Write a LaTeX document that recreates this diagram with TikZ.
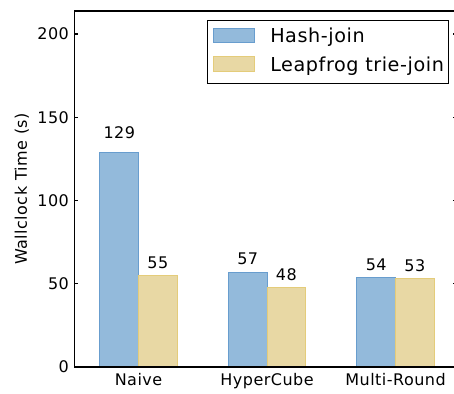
\documentclass[tikz,border=0pt]{standalone}
\usepackage{fontspec}
\setmainfont{DejaVu Sans}[LetterSpace=3]
\usepackage{tikz}
\usetikzlibrary{positioning}

\definecolor{hashfill}{RGB}{147,186,219}
\definecolor{hashedge}{RGB}{104,157,206}
\definecolor{lftjfill}{RGB}{232,216,164}
\definecolor{lftjedge}{RGB}{228,204,122}

\begin{document}
\begin{tikzpicture} [
  x=96.375pt, y=1.24875pt,
  hash bar/.style= {draw=hashedge,fill=hashfill,line width=0.75pt},
  lftj bar/.style= {draw=lftjedge,fill=lftjfill,line width=0.75pt},
  tick label/.style= {font=\fontsize{12}{14}\selectfont,inner sep=0},
  value label/.style= {tick label,anchor=base},
  legend text/.style= {font=\fontsize{14.4}{17}\selectfont,inner sep=0,anchor=base west},
  axis line/.style={line width=1pt}
]
\clip (-0.778,-16.2) rectangle (2.755,220.4);
% bars and their values
\foreach \i/\h/\l in {0/129/55, 1/57/48, 2/54/53} {
  \draw [hash bar] (\i,0) rectangle (\i+0.3,\h);
  \draw [lftj bar] (\i+0.3,0) rectangle (\i+0.6,\l);
  \node (hv\i) [value label] at (\i+0.15,1.05*\h+1.5) {\h};
  \node (lv\i) [value label] at (\i+0.45,1.05*\l+1.5) {\l};
}
% axes
\draw [axis line] (2.78,213.8) -- (-0.2,213.8) -- (-0.2,0) -- (2.78,0) -- cycle;
\foreach \v in {0,50,...,200} {
  \draw [axis line] (-0.2,\v) -- ++(0.031,0);
  \draw [axis line] (2.78,\v) -- ++(-0.031,0);
  \node (yt\v) [tick label,anchor=east] at (-0.24,\v) {\v};
}
\foreach \i/\name in {0/Naive, 1/HyperCube, 2/Multi-Round}
  \node (cat\i) [tick label,anchor=base] at (\i+0.3,-11.4) {\name};
\node (ylab) [tick label,rotate=90] at (-0.607,106.9) {Wallclock Time (s)};
% legend
\draw [line width=0.75pt,fill=white] (0.833,170) rectangle (2.716,207.8);
\draw [hash bar] (0.887,194.6) rectangle (1.206,203);
\draw [lftj bar] (0.887,177.2) rectangle (1.206,186.2);
\node (lg1) [legend text] at (1.323,194.6) {Hash-join};
\node (lg2) [legend text] at (1.323,177.2) {Leapfrog trie-join};
\end{tikzpicture}
\end{document}
